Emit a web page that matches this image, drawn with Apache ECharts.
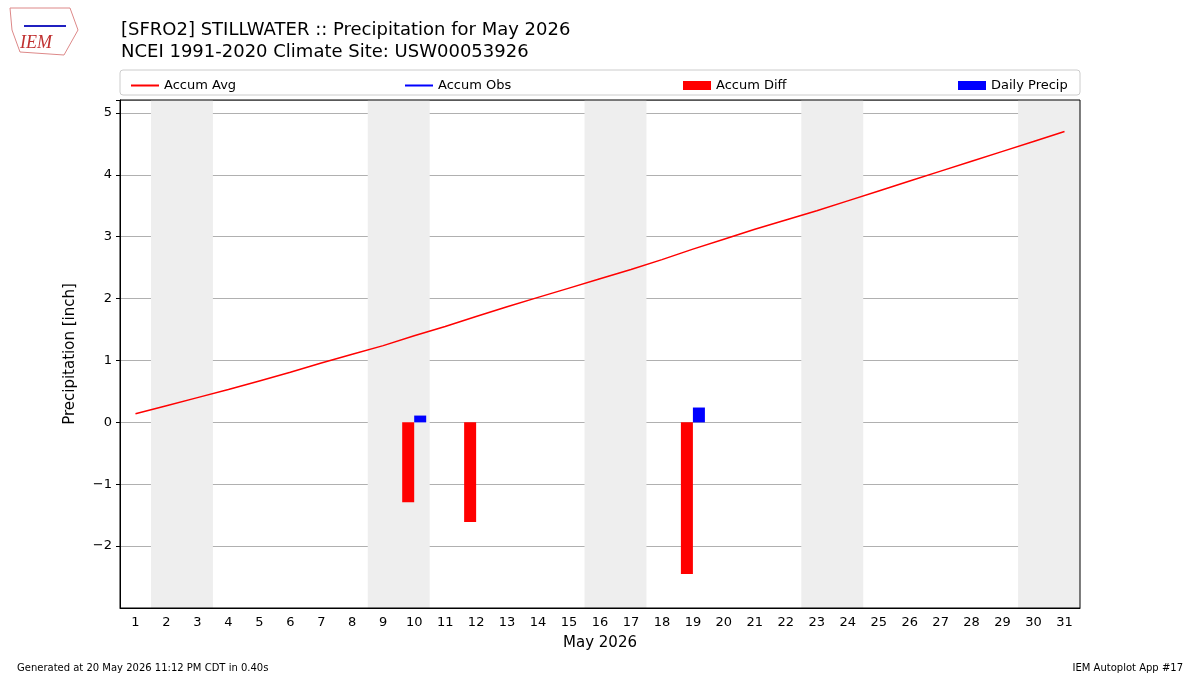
<!DOCTYPE html>
<html><head><meta charset="utf-8">
<script src="https://cdn.jsdelivr.net/npm/echarts@6/dist/echarts.min.js"></script>
<style>html,body{margin:0;padding:0;background:#fff}#c{width:1200px;height:675px}</style>
</head><body><div id="c"></div>
<script>
const days = Array.from({length:31},(_,i)=>String(i+1));
const accumAvg = [0.14,0.27,0.40,0.53,0.67,0.81,0.96,1.10,1.24,1.40,1.55,1.71,1.87,2.02,2.17,2.32,2.47,2.63,2.80,2.96,3.12,3.27,3.42,3.58,3.74,3.90,4.06,4.22,4.38,4.54,4.70];
const accumObs = [];
const accumDiff = [null,null,null,null,null,null,null,null,null,-1.29,null,-1.61,null,null,null,null,null,null,-2.45,null,null,null,null,null,null,null,null,null,null,null,null];
const dailyPrecip = [null,null,null,null,null,null,null,null,null,0.11,null,null,null,null,null,null,null,null,0.24,null,null,null,null,null,null,null,null,null,null,null,null];
const weekends = [[1.5,3.5],[8.5,10.5],[15.5,17.5],[22.5,24.5],[29.5,31.5]];
const F = 'DejaVu Sans';
const chart = echarts.init(document.getElementById('c'));
const legItem = (name, left, icon, h) => ({
  left: left, top: 74, data:[name], icon: icon, itemWidth: 28, itemHeight: h, itemGap: 10,
  textStyle:{fontFamily:F,fontSize:13,color:'#000'}, selectedMode:false
});
chart.setOption({
  animation:false,
  textStyle:{fontFamily:F},
  title:[
    {text:'[SFRO2] STILLWATER :: Precipitation for May 2026\nNCEI 1991-2020 Climate Site: USW00053926', left:116, top:14,
     textStyle:{fontFamily:F,fontSize:18,fontWeight:'normal',color:'#000',lineHeight:22}},
    {text:'Generated at 20 May 2026 11:12 PM CDT in 0.40s', left:12, top:658, textStyle:{fontFamily:F,fontSize:10,fontWeight:'normal',color:'#000'}},
    {text:'IEM Autoplot App #17', right:12, top:658, textStyle:{fontFamily:F,fontSize:10,fontWeight:'normal',color:'#000'}}
  ],
  graphic:[
    {type:'rect',shape:{x:120,y:70,width:960,height:25,r:3},style:{fill:'none',stroke:'#ccc',lineWidth:1}},
    {type:'rect',z:100,shape:{x:120,y:100,width:960,height:508},style:{fill:'none',stroke:'#000',lineWidth:1}},
    {type:'text',left:20,top:34,style:{text:'IEM',fill:'#c03030',font:'italic 18px "Liberation Serif"'}},
    {type:'polyline',shape:{points:[[10,8],[70,8],[78,30],[64,55],[20,52],[12,30],[10,8]]},style:{fill:'none',stroke:'#d88',lineWidth:1}},
    {type:'line',shape:{x1:24,y1:26,x2:66,y2:26},style:{stroke:'#2020c0',lineWidth:2}}
  ],
  legend:[
    legItem('Accum Avg',126,'rect',2),
    legItem('Accum Obs',400,'rect',2),
    legItem('Accum Diff',678,'rect',9),
    legItem('Daily Precip',953,'rect',9)
  ],
  grid:{left:120,right:120,top:100,bottom:67,show:false},
  xAxis:[
    {type:'category',data:days,boundaryGap:true,
     axisLine:{onZero:false,lineStyle:{color:'#000'}},axisTick:{alignWithLabel:true,length:4,lineStyle:{color:'#000'}},
     axisLabel:{color:'#000',fontSize:13,fontFamily:F,margin:8},
     name:'May 2026',nameLocation:'middle',nameGap:28,nameTextStyle:{fontSize:15,color:'#000',fontFamily:F}},
    {type:'value',min:0.5,max:31.5,show:false}
  ],
  yAxis:{type:'value',min:-3,max:5.21,interval:1,
    axisLine:{show:true,lineStyle:{color:'#000'}},axisTick:{show:true,length:4,lineStyle:{color:'#000'}},
    axisLabel:{color:'#000',fontSize:13,fontFamily:F,showMinLabel:false,formatter:v=>(Math.abs(v-Math.round(v))>1e-6||v<-2.5)?'':String(v).replace('-','\u2212')},
    splitLine:{lineStyle:{color:'#b0b0b0'}},
    name:'Precipitation [inch]',nameLocation:'middle',nameGap:42,nameTextStyle:{fontSize:15,color:'#000',fontFamily:F}},
  series:[
    {type:'line',xAxisIndex:1,data:[],silent:true,z:0,
     markArea:{silent:true,itemStyle:{color:'#eeeeee'},data:weekends.map(w=>[{xAxis:w[0]},{xAxis:w[1]}])}},
    {name:'Accum Avg',type:'line',data:accumAvg,showSymbol:false,lineStyle:{color:'#ff0000',width:1.5},itemStyle:{color:'#ff0000'},z:3},
    {name:'Accum Obs',type:'line',data:accumObs,showSymbol:false,lineStyle:{color:'#0000ff',width:1.5},itemStyle:{color:'#0000ff'}},
    {name:'Accum Diff',type:'bar',data:accumDiff,barWidth:12,barGap:'0%',itemStyle:{color:'#ff0000'}},
    {name:'Daily Precip',type:'bar',data:dailyPrecip,barWidth:12,barGap:'0%',itemStyle:{color:'#0000ff'}}
  ]
});
</script></body></html>
